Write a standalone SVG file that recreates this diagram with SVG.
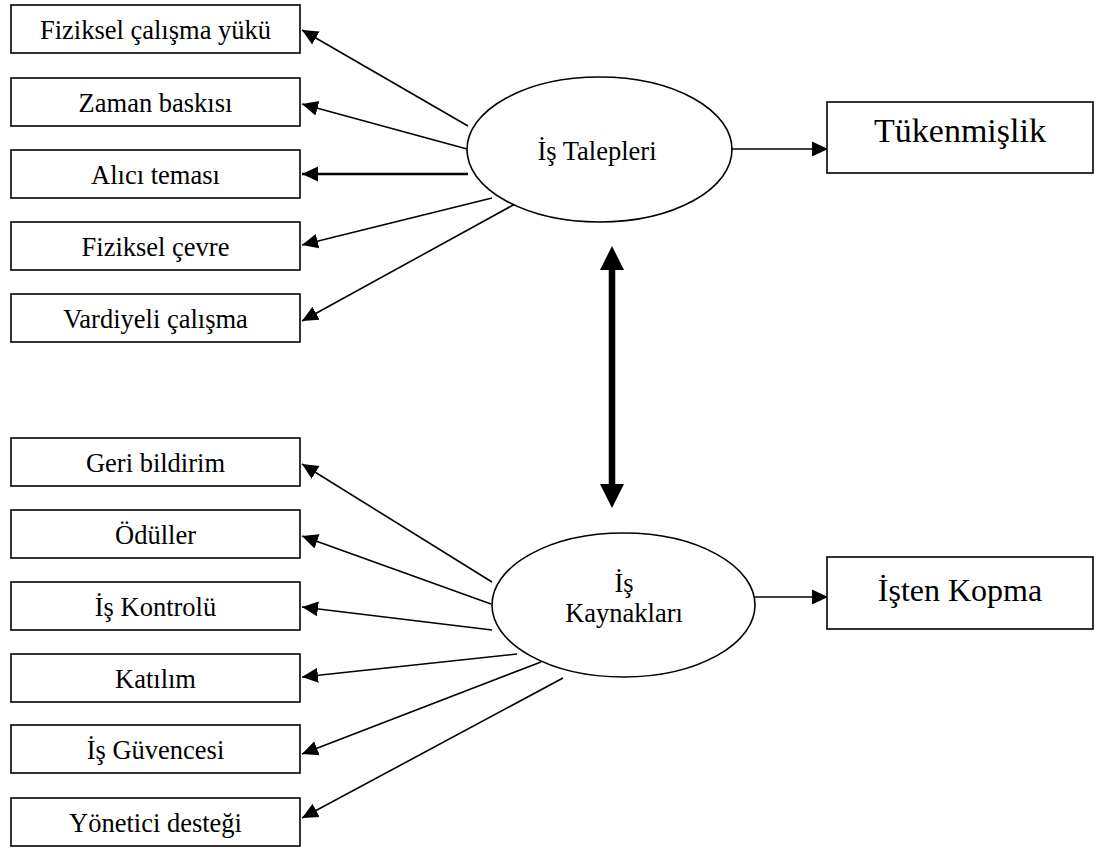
<svg xmlns="http://www.w3.org/2000/svg" width="1096" height="850" viewBox="0 0 1096 850">
  <style>
    .box { fill: #fff; stroke: #000; stroke-width: 1.6; }
    .oval { fill: #fff; stroke: #000; stroke-width: 1.6; }
    .lbl { font-family: "Liberation Serif", "Times New Roman", serif; font-size: 26.5px; fill: #000; text-anchor: middle; }
    .edge { stroke: #000; stroke-width: 1.6; fill: none; marker-end: url(#arr); }
    .thick { stroke-width: 2.6; }
  </style>
  <defs>
    <marker id="arr" markerUnits="userSpaceOnUse" markerWidth="16" markerHeight="16" viewBox="0 0 16 16" refX="16" refY="8" orient="auto">
      <path d="M0,0.5 L16,8 L0,15.5 Z" fill="#000"/>
    </marker>
  </defs>

  <rect width="1096" height="850" fill="#fff"/>

  <!-- connectors -->
  <g id="connectors">
    <!-- job demands -->
    <line class="edge" x1="468" y1="126" x2="302" y2="30"/>
    <line class="edge" x1="467" y1="149" x2="302" y2="104"/>
    <line class="edge thick" x1="468" y1="174" x2="302" y2="174"/>
    <line class="edge" x1="492" y1="198" x2="302" y2="245"/>
    <line class="edge" x1="515" y1="204" x2="302" y2="321"/>
    <line class="edge" x1="732" y1="149" x2="828" y2="149"/>
    <!-- job resources -->
    <line class="edge" x1="492" y1="582" x2="302" y2="464"/>
    <line class="edge" x1="491" y1="604" x2="302" y2="536"/>
    <line class="edge" x1="492" y1="630" x2="302" y2="607"/>
    <line class="edge" x1="517" y1="654" x2="302" y2="677"/>
    <line class="edge" x1="541" y1="662" x2="302" y2="754"/>
    <line class="edge" x1="563" y1="678" x2="302" y2="818"/>
    <line class="edge" x1="755" y1="597" x2="828" y2="597"/>
    <!-- two-way link between demands and resources -->
    <line x1="612" y1="268" x2="612" y2="486" stroke="#000" stroke-width="6.5"/>
    <path d="M612,246 L624,270 L600,270 Z" fill="#000"/>
    <path d="M612,508 L624,484 L600,484 Z" fill="#000"/>
  </g>

  <!-- demand items -->
  <g id="n-fiziksel-yuk"><rect class="box" x="11" y="5" width="289" height="48"/><text class="lbl" x="155.5" y="39">Fiziksel çalışma yükü</text></g>
  <g id="n-zaman"><rect class="box" x="11" y="78" width="289" height="48"/><text class="lbl" x="155.5" y="112">Zaman baskısı</text></g>
  <g id="n-alici"><rect class="box" x="11" y="150" width="289" height="48"/><text class="lbl" x="155.5" y="184">Alıcı teması</text></g>
  <g id="n-cevre"><rect class="box" x="11" y="222" width="289" height="48"/><text class="lbl" x="155.5" y="256">Fiziksel çevre</text></g>
  <g id="n-vardiya"><rect class="box" x="11" y="294" width="289" height="48"/><text class="lbl" x="155.5" y="328">Vardiyeli çalışma</text></g>

  <!-- resource items -->
  <g id="n-geri"><rect class="box" x="11" y="438" width="289" height="48"/><text class="lbl" x="155.5" y="472">Geri bildirim</text></g>
  <g id="n-odul"><rect class="box" x="11" y="510" width="289" height="48"/><text class="lbl" x="155.5" y="544">Ödüller</text></g>
  <g id="n-kontrol"><rect class="box" x="11" y="582" width="289" height="48"/><text class="lbl" x="155.5" y="616">İş Kontrolü</text></g>
  <g id="n-katilim"><rect class="box" x="11" y="654" width="289" height="48"/><text class="lbl" x="155.5" y="688">Katılım</text></g>
  <g id="n-guvence"><rect class="box" x="11" y="725" width="289" height="48"/><text class="lbl" x="155.5" y="759">İş Güvencesi</text></g>
  <g id="n-yonetici"><rect class="box" x="11" y="798" width="289" height="48"/><text class="lbl" x="155.5" y="832">Yönetici desteği</text></g>

  <!-- latent constructs -->
  <g id="n-talepler"><ellipse class="oval" cx="599.5" cy="149.5" rx="132.5" ry="72.5"/><text class="lbl" x="597" y="160">İş Talepleri</text></g>
  <g id="n-kaynaklar"><ellipse class="oval" cx="623.5" cy="605" rx="131.5" ry="72"/><text class="lbl" x="624" y="592">İş</text><text class="lbl" x="624" y="622">Kaynakları</text></g>

  <!-- outcomes -->
  <g id="n-tukenmislik"><rect class="box" x="827" y="102" width="266" height="71"/><text class="lbl" x="960" y="142" style="font-size:34px">Tükenmişlik</text></g>
  <g id="n-kopma"><rect class="box" x="827" y="557" width="266" height="72"/><text class="lbl" x="960" y="601" style="font-size:32px">İşten Kopma</text></g>
</svg>
